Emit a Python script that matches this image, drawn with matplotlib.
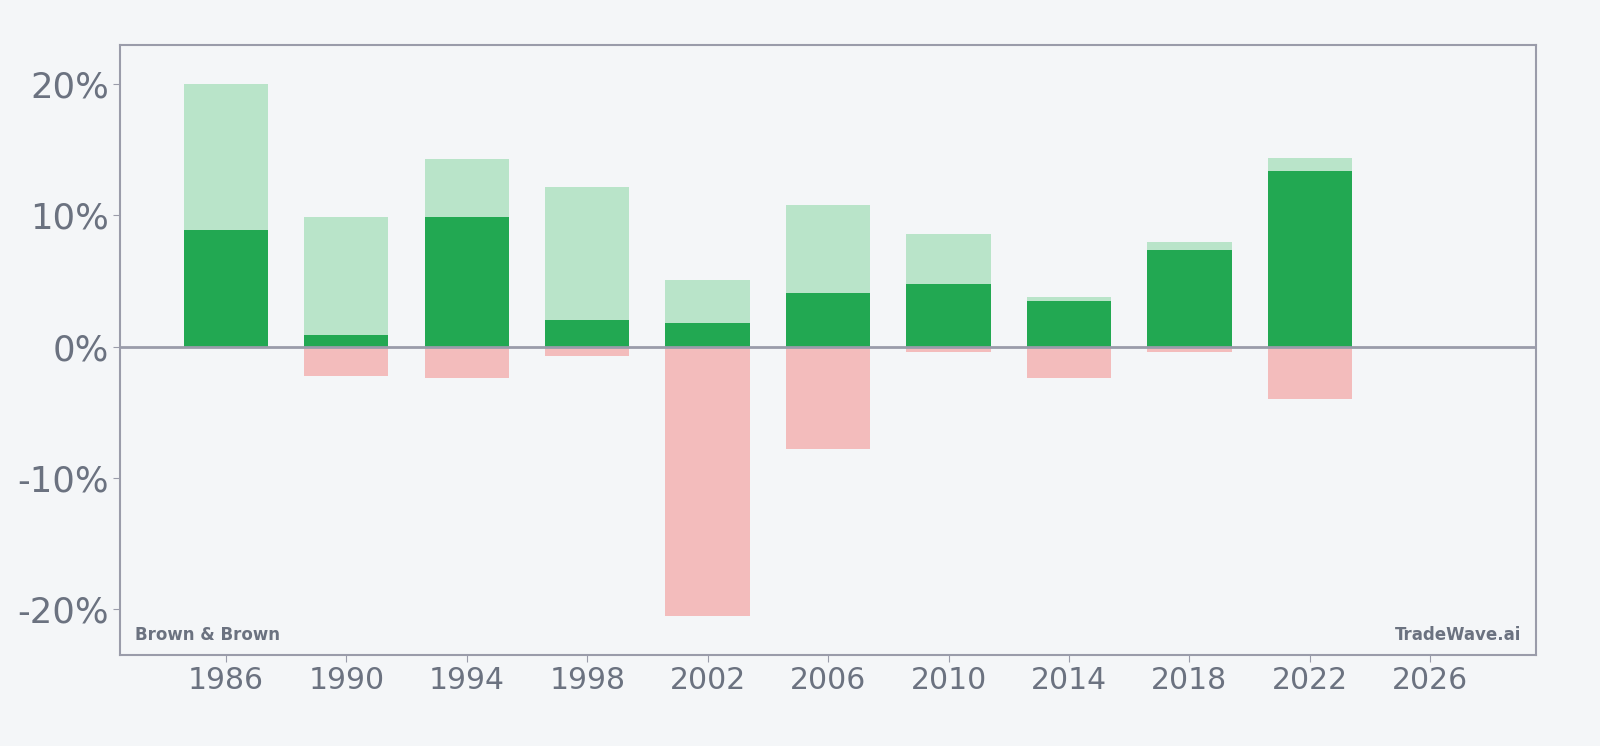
import matplotlib
matplotlib.use("Agg")
import matplotlib.pyplot as plt
from matplotlib.ticker import FuncFormatter

years = [1986, 1990, 1994, 1998, 2002, 2006, 2010, 2014, 2018, 2022]
returns = [8.9, 0.9, 9.9, 2.0, 1.8, 4.1, 4.8, 3.5, 7.4, 13.4]
highs = [20.0, 9.9, 14.3, 12.2, 5.1, 10.8, 8.6, 3.8, 8.0, 14.4]
lows = [0.0, -2.2, -2.4, -0.7, -20.5, -7.8, -0.4, -2.4, -0.4, -4.0]
xticks = [1986, 1990, 1994, 1998, 2002, 2006, 2010, 2014, 2018, 2022, 2026]
yticks = [-20, -10, 0, 10, 20]

bg = "#f4f6f8"
txt = "#6b7280"
spine = "#9a9caa"

fig = plt.figure(figsize=(16, 7.46), dpi=100, facecolor=bg)
ax = fig.add_axes([0.0753, 0.122, 0.8845, 0.8178], facecolor=bg)

w = 2.8
ax.bar(years, highs, width=w, color="#b9e4c9", zorder=2)
ax.bar(years, lows, width=w, color="#f3bcbc", zorder=2)
ax.bar(years, returns, width=w, color="#22a852", zorder=3)
ax.axhline(0, color=spine, lw=2, zorder=4)

ax.set_xlim(1982.5, 2029.5)
ax.set_ylim(-23.5, 23.0)
ax.set_xticks(xticks)
ax.set_yticks(yticks)
ax.yaxis.set_major_formatter(FuncFormatter(lambda v, p: f"{v:.0f}%"))
ax.tick_params(axis="y", labelsize=25.5, colors=txt, length=5, color=spine, pad=3)
ax.tick_params(axis="x", labelsize=21.5, colors=txt, length=5, color=spine, pad=3)
for s in ax.spines.values():
    s.set_color(spine)
    s.set_linewidth(1.5)

ax.text(0.01, 0.018, "Brown & Brown", transform=ax.transAxes, fontsize=12,
        fontweight="bold", color=txt, ha="left", va="bottom")
ax.text(0.99, 0.018, "TradeWave.ai", transform=ax.transAxes, fontsize=12,
        fontweight="bold", color=txt, ha="right", va="bottom")

fig.savefig("out.png", dpi=100, facecolor=bg)
